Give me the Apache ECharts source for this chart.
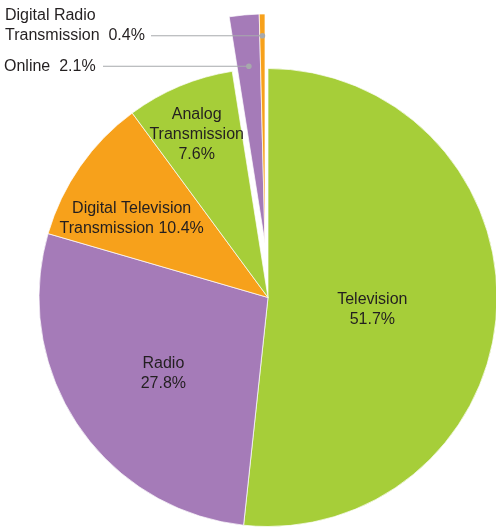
<!DOCTYPE html>
<html>
<head>
<meta charset="utf-8">
<style>
html,body{margin:0;padding:0;background:#fff;}
#chart{width:496px;height:527px;}
</style>
<script src="https://cdn.jsdelivr.net/npm/echarts@6/dist/echarts.min.js"></script>
</head>
<body>
<div id="chart"></div>
<script>
// ---- data ----
const categories = ['Television', 'Radio', 'Digital Television Transmission', 'Analog Transmission', 'Online', 'Digital Radio Transmission'];
const displayNames = ['Television', 'Radio', 'Digital Television\nTransmission', 'Analog\nTransmission', 'Online', 'Digital Radio\nTransmission'];
const values = [51.7, 27.8, 10.4, 7.6, 2.1, 0.4];
const exploded = [false, false, false, false, true, true];

// ---- style ----
const colors = ['#a6ce39', '#a57bb8', '#f7a11b', '#a6ce39', '#a57bb8', '#f7a11b'];
const separators = ['\n', '\n', ' ', '\n', '  ', '  '];
const CX = 268, CY = 297.5, R = 229;
const EXPLODE = [-3, -54.5];
const textColor = '#231f20';
const lineColor = '#a7a9ac';
const FONT = 'Liberation Sans, Arial, Helvetica, sans-serif';
const insideShift = [[-13, 6], [-7, 11], [-40, -12], [-26, -54]];
const outsideDotFrac = {4: 0.775, 5: 0.905};
const outsideLabelLeft = {4: 4, 5: 5};
const outsideLineLeft = {4: 103, 5: 151};
const outsideBlockShift = {4: 0, 5: -10};

const total = values.reduce((a, b) => a + b, 0);
const cum = [];
values.reduce((acc, v, i) => { cum[i] = acc; return acc + v; }, 0);
function dotPoint(i) {
  const th = 2 * Math.PI * (cum[i] + values[i] / 2) / total;
  const r = outsideDotFrac[i] * R;
  return [CX + EXPLODE[0] + r * Math.sin(th), CY + EXPLODE[1] - r * Math.cos(th)];
}

function buildData(showExploded) {
  return categories.map((c, i) => {
    const visible = exploded[i] === showExploded;
    return {
      name: c,
      value: values[i],
      itemStyle: visible ? { color: colors[i] } : { color: 'rgba(0,0,0,0)', borderWidth: 0 },
      label: { show: visible, position: exploded[i] ? 'outside' : 'inside' },
      labelLine: { show: false }
    };
  });
}

const baseLabel = {
  show: true,
  color: textColor,
  fontFamily: FONT,
  fontSize: 16,
  lineHeight: 20,
  align: 'center',
  formatter: p => displayNames[p.dataIndex] + separators[p.dataIndex] + p.value + '%'
};

const chart = echarts.init(document.getElementById('chart'), null, { renderer: 'canvas' });

const leaderGraphics = [];
[4, 5].forEach(i => {
  const p = dotPoint(i);
  leaderGraphics.push({ type: 'line', shape: { x1: outsideLineLeft[i], y1: p[1], x2: p[0], y2: p[1] }, style: { stroke: lineColor, lineWidth: 1 }, z: 100 });
  leaderGraphics.push({ type: 'circle', shape: { cx: p[0], cy: p[1], r: 2.8 }, style: { fill: lineColor }, z: 101 });
});

chart.setOption({
  animation: false,
  backgroundColor: '#fff',
  series: [{
    type: 'pie',
    center: [CX, CY],
    radius: [0, R],
    startAngle: 90,
    clockwise: true,
    silent: true,
    avoidLabelOverlap: false,
    emphasis: { disabled: true },
    itemStyle: { borderColor: '#ffffff', borderWidth: 0.7 },
    label: baseLabel,
    labelLayout: function (params) {
      const s = insideShift[params.dataIndex];
      return s ? { dx: s[0], dy: s[1] } : {};
    },
    data: buildData(false)
  }, {
    type: 'pie',
    center: [CX + EXPLODE[0], CY + EXPLODE[1]],
    radius: [0, R],
    startAngle: 90,
    clockwise: true,
    silent: true,
    avoidLabelOverlap: false,
    emphasis: { disabled: true },
    itemStyle: { borderColor: '#ffffff', borderWidth: 0.7 },
    label: Object.assign({}, baseLabel, { align: 'left' }),
    labelLayout: function (params) {
      const i = params.dataIndex;
      if (!exploded[i]) return {};
      const p = dotPoint(i);
      return {
        x: outsideLabelLeft[i],
        y: p[1] + outsideBlockShift[i],
        align: 'left',
        verticalAlign: 'middle'
      };
    },
    data: buildData(true)
  }],
  graphic: leaderGraphics
});
</script>
</body>
</html>
